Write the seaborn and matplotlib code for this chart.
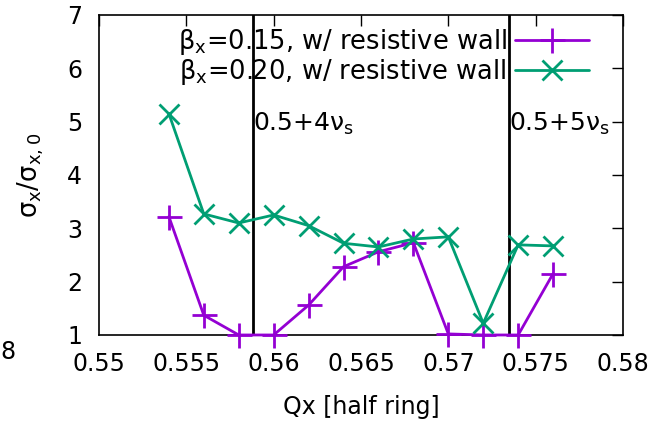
import numpy as np
import pandas as pd

from matplotlib import pyplot as plt
import seaborn as sns

# tune scan, beam size growth
qx = [0.554, 0.556, 0.558, 0.560, 0.562, 0.564, 0.566, 0.568, 0.570, 0.572, 0.574, 0.576]
sig_b015 = [3.22, 1.37, 1.0, 1.0, 1.56, 2.28, 2.56, 2.73, 1.02, 1.0, 1.0, 2.15]
sig_b020 = [5.15, 3.27, 3.10, 3.25, 3.05, 2.72, 2.65, 2.80, 2.84, 1.22, 2.69, 2.67]

labels = [r"β$_\mathrm{x}$=0.15, w/ resistive wall", r"β$_\mathrm{x}$=0.20, w/ resistive wall"]
nu_s = 0.0147
sb_orders = [4, 5]

df = pd.DataFrame({"Qx": qx, "b015": sig_b015, "b020": sig_b020})

sns.set_style("white")
plt.rcParams["font.family"] = ["DejaVu Sans"]
plt.rcParams["mathtext.fontset"] = "dejavusans"
plt.rcParams["text.color"] = "black"
plt.rcParams["axes.labelcolor"] = "black"
plt.rcParams["xtick.color"] = "black"
plt.rcParams["ytick.color"] = "black"

fs = 17

fig = plt.figure(figsize=(6.57, 4.22), dpi=100)
ax = fig.add_axes([0.1507, 0.2062, 0.7975, 0.7583])

purple = "#9400D3"
green = "#009E73"
sns.lineplot(data=df, x="Qx", y="b015", ax=ax, color=purple, marker="+",
             markersize=18, markeredgewidth=2, markeredgecolor=purple,
             linewidth=2, label=labels[0], clip_on=False, zorder=3)
sns.lineplot(data=df, x="Qx", y="b020", ax=ax, color=green, marker="x",
             markersize=14, markeredgewidth=2, markeredgecolor=green,
             linewidth=2, label=labels[1], clip_on=False, zorder=3)

for n in sb_orders:
    xv = 0.5 + n * nu_s
    ax.axvline(xv, color="black", linewidth=2)
    ax.text(xv, 4.95, "0.5+%dν$_\\mathrm{s}$" % n, fontsize=18, ha="left", va="center")

ax.set_xlim(0.55, 0.58)
ax.set_ylim(1, 7)
ax.set_xticks([0.55, 0.555, 0.56, 0.565, 0.57, 0.575, 0.58])
ax.set_xticklabels(["0.55", "0.555", "0.56", "0.565", "0.57", "0.575", "0.58"])
ax.set_yticks([1, 2, 3, 4, 5, 6, 7])
ax.tick_params(direction="in", length=8, width=1, labelsize=fs, top=True, right=True)
ax.tick_params(axis="x", pad=12)
ax.tick_params(axis="y", pad=12)
for s in ax.spines.values():
    s.set_color("black")
    s.set_linewidth(1.2)

ax.set_xlabel("Qx [half ring]", fontsize=fs, labelpad=14)
ax.set_ylabel(r"σ$_\mathrm{x}$/σ$_\mathrm{x,0}$", fontsize=18.5, labelpad=15)

ax.legend(loc="upper right", frameon=False, markerfirst=False, fontsize=18.5,
          handlelength=2.9, borderaxespad=0.2, labelspacing=0.0, handletextpad=0.3,
          bbox_to_anchor=(0.965, 1.012))

fig.text(0.0, 0.165, "8", fontsize=fs, ha="left", va="center")

plt.savefig("out.png", dpi=100)
